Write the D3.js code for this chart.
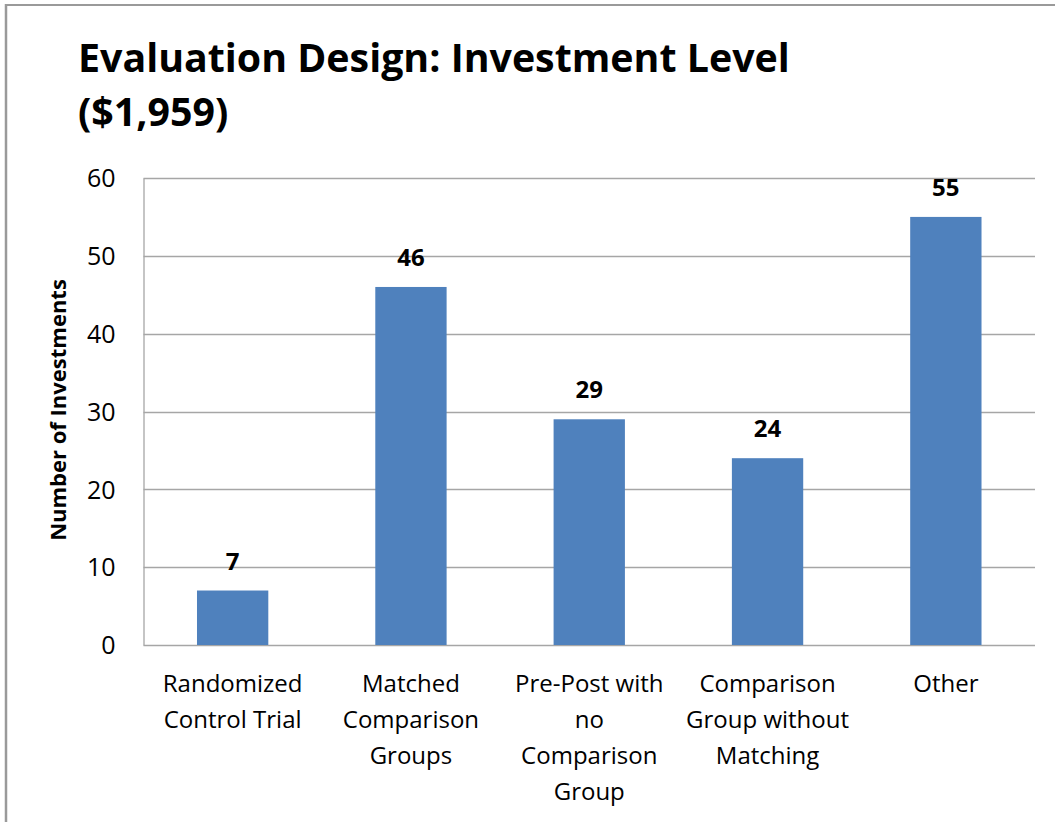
<!DOCTYPE html>
<html>
<head>
<meta charset="utf-8">
<script src="https://cdn.jsdelivr.net/npm/d3@7"></script>
<style>
  html, body { margin: 0; padding: 0; background: #fff; }
  svg { display: block; }
  text { font-family: "Open Sans", "Noto Sans", sans-serif; }
</style>
</head>
<body>
<svg id="chart" width="1055" height="822"></svg>
<script>
const categories = [
  ["Randomized", "Control Trial"],
  ["Matched", "Comparison", "Groups"],
  ["Pre-Post with", "no", "Comparison", "Group"],
  ["Comparison", "Group without", "Matching"],
  ["Other"]
];
const values = [7, 46, 29, 24, 55];
const yTicks = [0, 10, 20, 30, 40, 50, 60];
const titleLines = ["Evaluation Design: Investment Level", "($1,959)"];
const yAxisTitle = "Number of Investments";

const svg = d3.select("#chart");
const W = 1055, H = 822;
const plot = { left: 143.5, right: 1035, top: 178, bottom: 645 };

// outer frame (top and left edges visible)
svg.append("line").attr("x1", 5).attr("x2", W).attr("y1", 5).attr("y2", 5)
  .attr("stroke", "#9a9a9a").attr("stroke-width", 2);
svg.append("line").attr("x1", 6).attr("x2", 6).attr("y1", 4).attr("y2", H)
  .attr("stroke", "#9a9a9a").attr("stroke-width", 2.5);

const x = d3.scaleBand()
  .domain(d3.range(categories.length))
  .range([plot.left, plot.right])
  .paddingInner(0.6).paddingOuter(0.3);

const y = d3.scaleLinear().domain([0, 60]).range([plot.bottom, plot.top]);

// gridlines
svg.append("g").selectAll("line").data(yTicks.filter(d => d > 0)).join("line")
  .attr("x1", plot.left).attr("x2", plot.right)
  .attr("y1", d => Math.round(y(d)) + 0.5).attr("y2", d => Math.round(y(d)) + 0.5)
  .attr("stroke", "#a6a6a6").attr("stroke-width", 1.3);

// y axis
const yAxis = svg.append("g").attr("transform", `translate(${plot.left},0)`)
  .call(d3.axisLeft(y).tickValues(yTicks).tickSize(0).tickPadding(28));
yAxis.select(".domain").attr("stroke", "#a6a6a6").attr("stroke-width", 1.3);
yAxis.selectAll("text").attr("font-size", 25).attr("fill", "#000").attr("dy", "0.35em");

// x axis baseline
svg.append("line").attr("x1", plot.left).attr("x2", plot.right)
  .attr("y1", plot.bottom + 0.5).attr("y2", plot.bottom + 0.5)
  .attr("stroke", "#a6a6a6").attr("stroke-width", 1.3);

// bars
svg.append("g").selectAll("rect").data(values).join("rect")
  .attr("x", (d, i) => x(i)).attr("width", x.bandwidth())
  .attr("y", d => y(d)).attr("height", d => y(0) - y(d))
  .attr("fill", "#4f81bd");

// data labels
svg.append("g").selectAll("text").data(values).join("text")
  .attr("x", (d, i) => x(i) + x.bandwidth() / 2)
  .attr("y", d => y(d) - 21)
  .attr("text-anchor", "middle")
  .attr("font-size", 24).attr("font-weight", "bold").attr("fill", "#000")
  .text(d => d);

// x category labels
const xl = svg.append("g").selectAll("text").data(categories).join("text")
  .attr("x", (d, i) => x(i) + x.bandwidth() / 2)
  .attr("y", 692)
  .attr("text-anchor", "middle")
  .attr("font-size", 24).attr("fill", "#000");
xl.selectAll("tspan").data(d => d).join("tspan")
  .attr("x", function() { return d3.select(this.parentNode).attr("x"); })
  .attr("dy", (d, i) => i === 0 ? 0 : 36)
  .text(d => d);

// y axis title
svg.append("text")
  .attr("transform", `translate(66,410) rotate(-90)`)
  .attr("text-anchor", "middle")
  .attr("font-size", 22).attr("font-weight", "bold").attr("fill", "#000")
  .text(yAxisTitle);

// title
const t = svg.append("g");
titleLines.forEach((line, i) => {
  t.append("text").attr("x", 78).attr("y", 72 + i * 54)
    .attr("font-size", 40).attr("font-weight", "bold").attr("fill", "#000")
    .text(line);
});
// fit title width to the reference's line width
const first = t.select("text").node();
const w = first.getComputedTextLength();
const s = 712 / w;
t.selectAll("text").attr("font-size", 40 * s);
</script>
</body>
</html>
